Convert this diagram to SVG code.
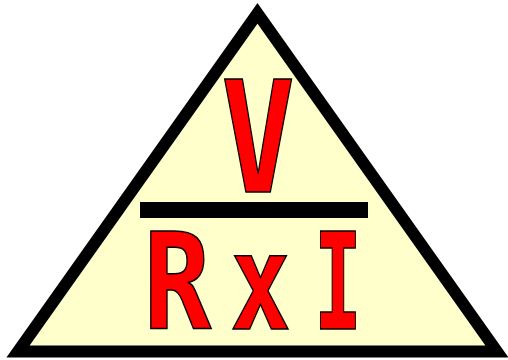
<svg xmlns="http://www.w3.org/2000/svg" width="508" height="360" viewBox="0 0 508 360">
<style>
.t{font-family:"DejaVu Sans Mono",monospace;font-weight:bold;fill:#ff0000;stroke:#000;stroke-width:1.6;text-anchor:middle}
</style>
<g id="triangle">
<polygon points="257.5,13.4 497,351.5 18,351.5" fill="#ffffcc" stroke="#000" stroke-width="12" stroke-linejoin="miter" stroke-miterlimit="10"/>
</g>
<g id="bar"><rect x="140" y="202" width="228" height="16" fill="#000"/></g>
<g id="V"><text class="t" transform="translate(258,192) scale(0.79,1)" font-size="155">V</text></g>
<g id="R"><text class="t" transform="translate(177.5,329) scale(0.84,1)" font-size="134">R</text></g>
<g id="x"><text class="t" transform="translate(260.5,329) scale(0.75,1)" font-size="134">x</text></g>
<g id="I"><text class="t" transform="translate(338,329) scale(0.6,1)" font-size="134">I</text></g>
</svg>
